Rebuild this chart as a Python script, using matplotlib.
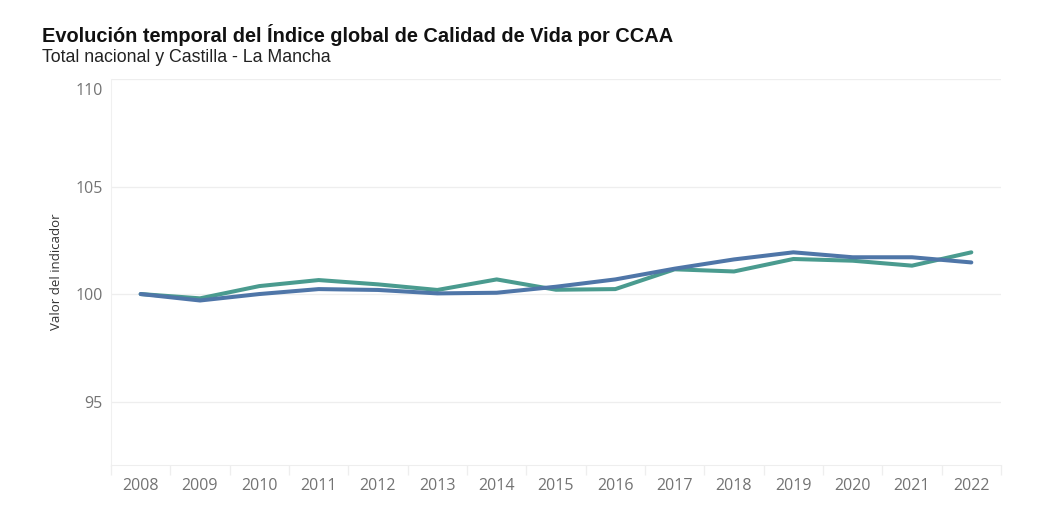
import matplotlib
matplotlib.use("Agg")
import matplotlib.pyplot as plt
from matplotlib.ticker import FixedLocator
from matplotlib.transforms import ScaledTranslation

years = list(range(2008, 2023))
serie_azul = [100.0, 99.7, 100.0, 100.23, 100.19, 100.03, 100.06, 100.34, 100.68, 101.18,
              101.61, 101.94, 101.71, 101.71, 101.47]
serie_verde = [100.0, 99.8, 100.37, 100.65, 100.45, 100.19, 100.68, 100.2, 100.23, 101.15,
               101.05, 101.63, 101.55, 101.32, 101.94]
yticks = [95, 100, 105, 110]

plt.rcParams['font.family'] = ['Liberation Sans', 'DejaVu Sans']
W, H = 1057, 530
fig = plt.figure(figsize=(W / 100, H / 100), dpi=100)
ax = fig.add_axes([111 / W, 1 - 465 / H, (1001 - 111) / W, (465 - 79) / H])

ax.plot(years, serie_verde, color='#4a9b8f', lw=2.9, solid_capstyle='round', zorder=3)
ax.plot(years, serie_azul, color='#4f76a8', lw=2.9, solid_capstyle='round', zorder=4)

ax.set_xlim(2007.5, 2022.5)
ax.set_ylim(92.05, 110)
ax.set_yticks(yticks)
ax.set_xticks(years)
ax.set_xticklabels([str(y) for y in years])
ax.xaxis.set_minor_locator(FixedLocator([y + 0.5 for y in range(2007, 2023)]))
ax.grid(axis='y', color='#eeeeee', lw=0.9)
ax.set_axisbelow(True)
for s in ['top', 'right']:
    ax.spines[s].set_visible(False)
ax.spines['left'].set_color('#f0f0f0')
ax.spines['bottom'].set_color('#eeeeee')
ax.tick_params(axis='x', which='major', length=0, pad=9, labelsize=11.5, labelcolor='#737373')
ax.tick_params(axis='x', which='minor', length=7, color='#eeeeee', width=0.9)
ax.tick_params(axis='y', length=0, pad=6, labelsize=11.5, labelcolor='#737373')
for lab in ax.get_xticklabels() + ax.get_yticklabels():
    lab.set_family(['Open Sans', 'DejaVu Sans'])
top_lab = ax.get_yticklabels()[-1]
top_lab.set_transform(top_lab.get_transform() + ScaledTranslation(0, -10 / 100, fig.dpi_scale_trans))

ax.set_ylabel('Valor del indicador', fontsize=9.5, color='#333333', family=['Open Sans', 'DejaVu Sans'])
ax.yaxis.set_label_coords(-(111 - 57) / (1001 - 111), 0.5)
ax.yaxis.label.set_va('center')

fig.text(42 / W, 1 - 35 / H, 'Evolución temporal del Índice global de Calidad de Vida por CCAA',
         fontsize=14.4, fontweight='bold', color='#111111', va='center')
fig.text(42 / W, 1 - 58 / H, 'Total nacional y Castilla - La Mancha',
         fontsize=12.8, color='#222222', va='center')

fig.savefig('out.png', dpi=100)
